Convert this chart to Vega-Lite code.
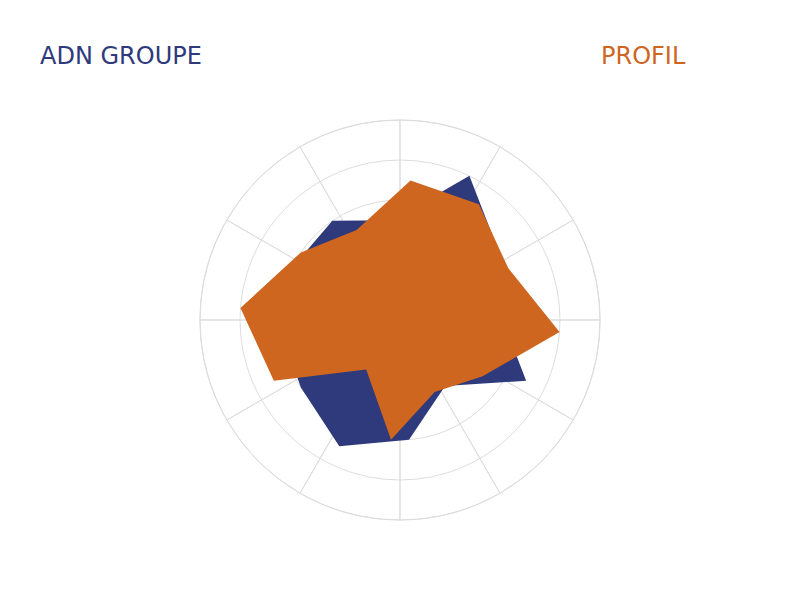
{
  "$schema": "https://vega.github.io/schema/vega-lite/v6.json",
  "width": 400,
  "height": 400,
  "autosize": "none",
  "padding": {"left": 200, "top": 120, "right": 200, "bottom": 80},
  "datasets": {
    "spokes": [
      {"spoke": 0, "share": 1}, {"spoke": 1, "share": 1}, {"spoke": 2, "share": 1},
      {"spoke": 3, "share": 1}, {"spoke": 4, "share": 1}, {"spoke": 5, "share": 1},
      {"spoke": 6, "share": 1}, {"spoke": 7, "share": 1}, {"spoke": 8, "share": 1},
      {"spoke": 9, "share": 1}, {"spoke": 10, "share": 1}, {"spoke": 11, "share": 1}
    ],
    "rings": [
      {"level": 1}, {"level": 2}, {"level": 3}, {"level": 4}, {"level": 5}
    ],
    "scores": [
      {"series": "ADN GROUPE", "k": 0, "value": 2.5},
      {"series": "ADN GROUPE", "k": 1, "value": 4},
      {"series": "ADN GROUPE", "k": 2, "value": 3},
      {"series": "ADN GROUPE", "k": 3, "value": 2.5},
      {"series": "ADN GROUPE", "k": 4, "value": 3.5},
      {"series": "ADN GROUPE", "k": 5, "value": 2},
      {"series": "ADN GROUPE", "k": 6, "value": 3},
      {"series": "ADN GROUPE", "k": 7, "value": 3.5},
      {"series": "ADN GROUPE", "k": 8, "value": 3},
      {"series": "ADN GROUPE", "k": 9, "value": 3},
      {"series": "ADN GROUPE", "k": 10, "value": 3},
      {"series": "ADN GROUPE", "k": 11, "value": 3},
      {"series": "PROFIL", "k": 0, "value": 3.5},
      {"series": "PROFIL", "k": 1, "value": 3.5},
      {"series": "PROFIL", "k": 2, "value": 3},
      {"series": "PROFIL", "k": 3, "value": 4},
      {"series": "PROFIL", "k": 4, "value": 2.5},
      {"series": "PROFIL", "k": 5, "value": 2},
      {"series": "PROFIL", "k": 6, "value": 3},
      {"series": "PROFIL", "k": 7, "value": 1.5},
      {"series": "PROFIL", "k": 8, "value": 3.5},
      {"series": "PROFIL", "k": 9, "value": 4},
      {"series": "PROFIL", "k": 10, "value": 3},
      {"series": "PROFIL", "k": 11, "value": 2.5}
    ]
  },
  "layer": [
    {
      "data": {"name": "spokes"},
      "mark": {"type": "arc", "filled": false, "stroke": "#dddddd", "strokeWidth": 1},
      "encoding": {
        "theta": {"field": "share", "type": "quantitative", "stack": true},
        "radius": {"datum": 5, "type": "quantitative", "stack": null, "scale": {"type": "linear", "domain": [0, 5], "range": [0, 200], "zero": true}}
      }
    },
    {
      "data": {"name": "rings"},
      "mark": {"type": "arc", "filled": false, "stroke": "#dddddd", "strokeWidth": 1, "theta": 0, "theta2": 6.2832},
      "encoding": {
        "radius": {"field": "level", "type": "quantitative", "stack": null}
      }
    },
    {
      "data": {"name": "scores"},
      "transform": [
        {"calculate": "(datum.k * 30 + (datum.series === 'PROFIL' ? 4.3 : -4.3)) * PI / 180", "as": "angle"},
        {"calculate": "datum.value * sin(datum.angle)", "as": "px"},
        {"calculate": "datum.value * cos(datum.angle)", "as": "py"}
      ],
      "mark": {"type": "line", "interpolate": "linear-closed", "strokeWidth": 0},
      "encoding": {
        "x": {"field": "px", "type": "quantitative", "scale": {"domain": [-5, 5]}, "axis": null},
        "y": {"field": "py", "type": "quantitative", "scale": {"domain": [-5, 5]}, "axis": null},
        "order": {"field": "k", "type": "quantitative"},
        "fill": {
          "field": "series",
          "type": "nominal",
          "scale": {"domain": ["ADN GROUPE", "PROFIL"], "range": ["#2e3a7b", "#cf661f"]},
          "legend": {
            "title": null,
            "orient": "none",
            "legendX": -184,
            "legendY": -75,
            "direction": "horizontal",
            "symbolSize": 0,
            "symbolStrokeWidth": 0,
            "symbolOpacity": 0,
            "labelOffset": 0,
            "labelFont": "DejaVu Sans",
            "labelFontSize": 24,
            "labelLimit": 0,
            "columnPadding": 375,
            "labelColor": {"expr": "datum.value === 'PROFIL' ? '#cf661f' : '#2e3a7b'"}
          }
        }
      }
    }
  ],
  "config": {"view": {"stroke": null}}
}
